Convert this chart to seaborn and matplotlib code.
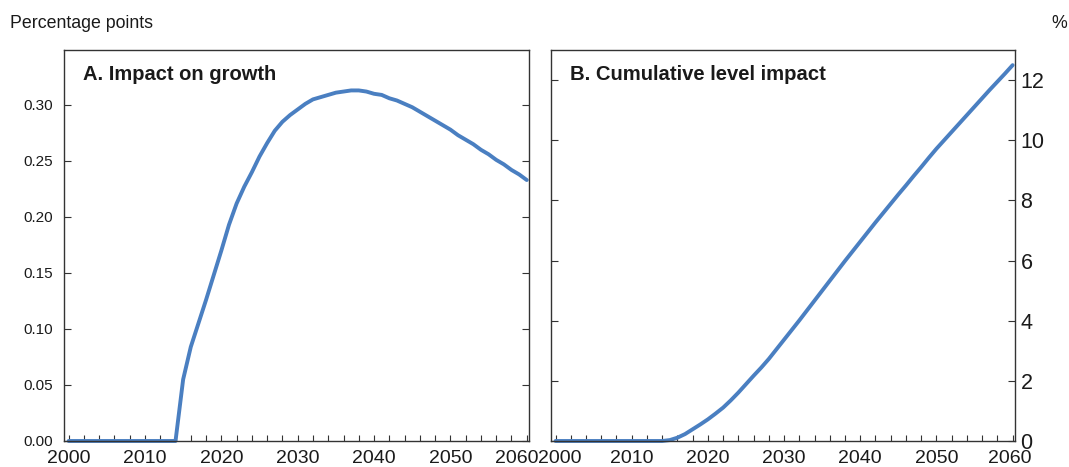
import numpy as np
import pandas as pd
import seaborn as sns
import matplotlib.pyplot as plt
from matplotlib.ticker import MultipleLocator
from matplotlib.transforms import ScaledTranslation, blended_transform_factory

years = list(range(2000, 2061))
year_labels = [2000, 2010, 2020, 2030, 2040, 2050, 2060]

# panel A: impact on growth, percentage points
growth = [0.0] * 15 + [
    0.055, 0.084, 0.105, 0.126, 0.148, 0.170, 0.193, 0.212, 0.227, 0.240,
    0.254, 0.266, 0.277, 0.285, 0.291, 0.296, 0.301, 0.305, 0.307, 0.309,
    0.311, 0.312, 0.313, 0.313, 0.312, 0.310, 0.309, 0.306, 0.304, 0.301,
    0.298, 0.294, 0.290, 0.286, 0.282, 0.278, 0.273, 0.269, 0.265, 0.260,
    0.256, 0.251, 0.247, 0.242, 0.238, 0.233,
]

# panel B: cumulative level impact, %
level = [0.0] * 15 + [
    0.03, 0.11, 0.23, 0.39, 0.55, 0.72, 0.91, 1.11, 1.35, 1.61,
    1.89, 2.17, 2.44, 2.73, 3.05, 3.37, 3.69, 4.01, 4.34, 4.67,
    5.00, 5.33, 5.66, 5.99, 6.31, 6.63, 6.95, 7.27, 7.58, 7.89,
    8.20, 8.50, 8.81, 9.11, 9.42, 9.72, 10.00, 10.28, 10.56, 10.84,
    11.12, 11.40, 11.68, 11.95, 12.22, 12.50,
]

df = pd.DataFrame({"year": years, "growth": growth, "level": level})

sns.set_style("ticks")
plt.rcParams['font.family'] = ['Liberation Sans', 'DejaVu Sans']

line_color = "#4a7fc1"
spine_color = "#333333"
text_color = "#1a1a1a"

fig = plt.figure(figsize=(10.69, 4.67), dpi=100)
ax_a = fig.add_axes([0.0599, 0.0557, 0.435, 0.837])
ax_b = fig.add_axes([0.5154, 0.0557, 0.434, 0.837])

sns.lineplot(data=df, x="year", y="growth", ax=ax_a, color=line_color,
             linewidth=2.8, clip_on=False)
sns.lineplot(data=df, x="year", y="level", ax=ax_b, color=line_color,
             linewidth=2.8, clip_on=False)

for ax in (ax_a, ax_b):
    ax.set_xlim(1999.4, 2060.3)
    ax.xaxis.set_major_locator(MultipleLocator(10))
    ax.xaxis.set_minor_locator(MultipleLocator(2))
    ax.set_xlabel("")
    ax.set_ylabel("")
    for s in ax.spines.values():
        s.set_color(spine_color)
        s.set_linewidth(1.0)
    ax.tick_params(axis="x", which="both", direction="in", length=4,
                   width=0.8, color=spine_color, labelbottom=False)
    ax.tick_params(axis="y", which="both", direction="in", length=5,
                   width=0.8, color=spine_color, left=True, right=True)

ax_a.set_ylim(0, 0.349)
ax_a.yaxis.set_major_locator(MultipleLocator(0.05))
ax_a.yaxis.set_major_formatter(plt.FormatStrFormatter("%.2f"))
ax_a.tick_params(axis="y", labelleft=True, labelright=False, labelsize=11,
                 pad=8, labelcolor=text_color)

ax_b.set_ylim(0, 13)
ax_b.yaxis.set_major_locator(MultipleLocator(2))
ax_b.tick_params(axis="y", labelleft=False, labelright=True, labelsize=15.5,
                 pad=4, labelcolor=text_color)

# year labels as text so the edge ones can sit side by side (2060|2000)
edge_shift = {ax_a: {2000: 0, 2060: -10}, ax_b: {2000: 4, 2060: -3}}
for ax in (ax_a, ax_b):
    trans = blended_transform_factory(ax.transData, ax.transAxes)
    for yr in year_labels:
        dx = edge_shift[ax].get(yr, 0)
        ax.text(yr, 0, str(yr), fontsize=14, color=text_color, ha="center",
                va="top",
                transform=trans + ScaledTranslation(dx / 100, -0.09,
                                                    fig.dpi_scale_trans))

ax_a.text(0.04, 0.962, "A. Impact on growth", transform=ax_a.transAxes,
          fontsize=14.5, fontweight="bold", color=text_color, va="top", ha="left")
ax_b.text(0.04, 0.962, "B. Cumulative level impact", transform=ax_b.transAxes,
          fontsize=14.6, fontweight="bold", color=text_color, va="top", ha="left")

fig.text(0.009, 0.949, "Percentage points", fontsize=12.8, color=text_color,
         ha="left", va="center")
fig.text(0.998, 0.949, "%", fontsize=12.8, color=text_color, ha="right",
         va="center")

fig.savefig("out.png", dpi=100, facecolor="white")
